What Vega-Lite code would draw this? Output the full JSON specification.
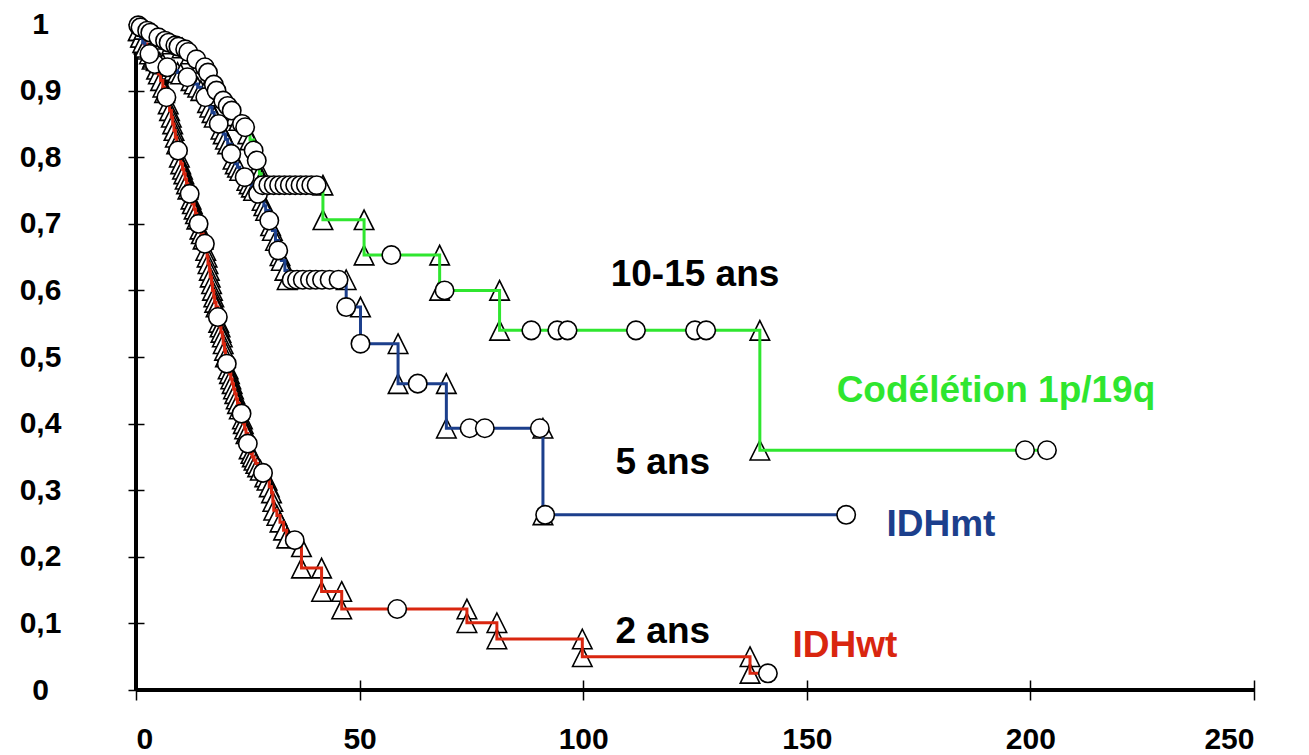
{
  "$schema": "https://vega.github.io/schema/vega-lite/v6.json",
  "width": 1118,
  "height": 666,
  "autosize": {"type": "none"},
  "padding": {"left": 136, "top": 24, "right": 55, "bottom": 65},
  "background": "white",
  "config": {
    "view": {"stroke": null},
    "font": "Liberation Sans",
    "axis": {"grid": false, "domain": false, "tickColor": "black", "tickWidth": 1.5, "labelColor": "black", "labelFont": "Liberation Sans", "labelFontWeight": "bold", "labelFontSize": 30, "title": null}
  },
  "datasets": {
    "km": [
      {"g":"wt","t":0,"s":1,"m":"s"},
      {"g":"wt","t":0.6,"s":0.99,"m":"e"},
      {"g":"wt","t":1.2,"s":0.98,"m":"e"},
      {"g":"wt","t":1.8,"s":0.97,"m":"e"},
      {"g":"wt","t":2.4,"s":0.962,"m":"e"},
      {"g":"wt","t":3.0,"s":0.955,"m":"e"},
      {"g":"wt","t":3.6,"s":0.947,"m":"e"},
      {"g":"wt","t":4.2,"s":0.94,"m":"c"},
      {"g":"wt","t":4.6,"s":0.932,"m":"e"},
      {"g":"wt","t":5.0,"s":0.925,"m":"e"},
      {"g":"wt","t":5.5,"s":0.915,"m":"e"},
      {"g":"wt","t":6.0,"s":0.905,"m":"e"},
      {"g":"wt","t":6.4,"s":0.897,"m":"e"},
      {"g":"wt","t":6.8,"s":0.89,"m":"c"},
      {"g":"wt","t":7.2,"s":0.88,"m":"e"},
      {"g":"wt","t":7.5,"s":0.87,"m":"e"},
      {"g":"wt","t":7.9,"s":0.86,"m":"e"},
      {"g":"wt","t":8.2,"s":0.85,"m":"e"},
      {"g":"wt","t":8.5,"s":0.84,"m":"e"},
      {"g":"wt","t":8.8,"s":0.83,"m":"e"},
      {"g":"wt","t":9.1,"s":0.82,"m":"e"},
      {"g":"wt","t":9.4,"s":0.81,"m":"c"},
      {"g":"wt","t":9.7,"s":0.80,"m":"e"},
      {"g":"wt","t":10.0,"s":0.79,"m":"e"},
      {"g":"wt","t":10.4,"s":0.782,"m":"e"},
      {"g":"wt","t":10.7,"s":0.775,"m":"e"},
      {"g":"wt","t":11.0,"s":0.767,"m":"e"},
      {"g":"wt","t":11.3,"s":0.76,"m":"e"},
      {"g":"wt","t":11.6,"s":0.752,"m":"e"},
      {"g":"wt","t":12.0,"s":0.745,"m":"c"},
      {"g":"wt","t":12.3,"s":0.737,"m":"e"},
      {"g":"wt","t":12.6,"s":0.73,"m":"e"},
      {"g":"wt","t":13.0,"s":0.722,"m":"e"},
      {"g":"wt","t":13.3,"s":0.715,"m":"e"},
      {"g":"wt","t":13.6,"s":0.707,"m":"e"},
      {"g":"wt","t":14.0,"s":0.70,"m":"c"},
      {"g":"wt","t":14.3,"s":0.692,"m":"e"},
      {"g":"wt","t":14.6,"s":0.685,"m":"e"},
      {"g":"wt","t":15.0,"s":0.677,"m":"e"},
      {"g":"wt","t":15.4,"s":0.67,"m":"c"},
      {"g":"wt","t":15.6,"s":0.66,"m":"e"},
      {"g":"wt","t":15.9,"s":0.65,"m":"e"},
      {"g":"wt","t":16.1,"s":0.64,"m":"e"},
      {"g":"wt","t":16.4,"s":0.63,"m":"e"},
      {"g":"wt","t":16.6,"s":0.62,"m":"e"},
      {"g":"wt","t":16.9,"s":0.61,"m":"e"},
      {"g":"wt","t":17.1,"s":0.60,"m":"e"},
      {"g":"wt","t":17.4,"s":0.59,"m":"e"},
      {"g":"wt","t":17.6,"s":0.582,"m":"e"},
      {"g":"wt","t":17.9,"s":0.575,"m":"e"},
      {"g":"wt","t":18.3,"s":0.56,"m":"c"},
      {"g":"wt","t":18.5,"s":0.552,"m":"e"},
      {"g":"wt","t":18.8,"s":0.545,"m":"e"},
      {"g":"wt","t":19.0,"s":0.537,"m":"e"},
      {"g":"wt","t":19.3,"s":0.53,"m":"e"},
      {"g":"wt","t":19.5,"s":0.52,"m":"e"},
      {"g":"wt","t":19.8,"s":0.51,"m":"e"},
      {"g":"wt","t":20.0,"s":0.50,"m":"e"},
      {"g":"wt","t":20.3,"s":0.49,"m":"c"},
      {"g":"wt","t":20.6,"s":0.482,"m":"e"},
      {"g":"wt","t":20.9,"s":0.475,"m":"e"},
      {"g":"wt","t":21.2,"s":0.467,"m":"e"},
      {"g":"wt","t":21.5,"s":0.46,"m":"e"},
      {"g":"wt","t":21.8,"s":0.452,"m":"e"},
      {"g":"wt","t":22.1,"s":0.445,"m":"e"},
      {"g":"wt","t":22.4,"s":0.437,"m":"e"},
      {"g":"wt","t":22.7,"s":0.43,"m":"e"},
      {"g":"wt","t":23.1,"s":0.422,"m":"e"},
      {"g":"wt","t":23.6,"s":0.415,"m":"c"},
      {"g":"wt","t":23.8,"s":0.407,"m":"e"},
      {"g":"wt","t":24.0,"s":0.40,"m":"e"},
      {"g":"wt","t":24.3,"s":0.392,"m":"e"},
      {"g":"wt","t":24.6,"s":0.385,"m":"e"},
      {"g":"wt","t":25.0,"s":0.37,"m":"c"},
      {"g":"wt","t":25.3,"s":0.362,"m":"e"},
      {"g":"wt","t":25.7,"s":0.355,"m":"e"},
      {"g":"wt","t":26.0,"s":0.35,"m":"e"},
      {"g":"wt","t":26.4,"s":0.345,"m":"e"},
      {"g":"wt","t":26.8,"s":0.34,"m":"e"},
      {"g":"wt","t":27.2,"s":0.335,"m":"e"},
      {"g":"wt","t":27.8,"s":0.33,"m":"e"},
      {"g":"wt","t":28.4,"s":0.326,"m":"c"},
      {"g":"wt","t":28.8,"s":0.32,"m":"e"},
      {"g":"wt","t":29.3,"s":0.315,"m":"e"},
      {"g":"wt","t":29.8,"s":0.305,"m":"e"},
      {"g":"wt","t":30.3,"s":0.296,"m":"e"},
      {"g":"wt","t":30.6,"s":0.283,"m":"e"},
      {"g":"wt","t":30.8,"s":0.27,"m":"e"},
      {"g":"wt","t":31.5,"s":0.262,"m":"e"},
      {"g":"wt","t":32.2,"s":0.252,"m":"e"},
      {"g":"wt","t":33.0,"s":0.24,"m":"e"},
      {"g":"wt","t":33.7,"s":0.228,"m":"e"},
      {"g":"wt","t":35.5,"s":0.225,"m":"c"},
      {"g":"wt","t":37.0,"s":0.215,"m":"e"},
      {"g":"wt","t":37.0,"s":0.183,"m":"e"},
      {"g":"wt","t":41.5,"s":0.183,"m":"e"},
      {"g":"wt","t":41.5,"s":0.148,"m":"e"},
      {"g":"wt","t":46.0,"s":0.148,"m":"e"},
      {"g":"wt","t":46.0,"s":0.1216,"m":"e"},
      {"g":"wt","t":58.4,"s":0.1216,"m":"c"},
      {"g":"wt","t":74.0,"s":0.1216,"m":"e"},
      {"g":"wt","t":74.0,"s":0.101,"m":"e"},
      {"g":"wt","t":80.7,"s":0.101,"m":"e"},
      {"g":"wt","t":80.7,"s":0.0766,"m":"e"},
      {"g":"wt","t":99.8,"s":0.0766,"m":"e"},
      {"g":"wt","t":99.8,"s":0.05,"m":"e"},
      {"g":"wt","t":137.3,"s":0.05,"m":"e"},
      {"g":"wt","t":137.3,"s":0.025,"m":"e"},
      {"g":"wt","t":141.3,"s":0.025,"m":"c"},

      {"g":"mt","t":0,"s":1,"m":"s"},
      {"g":"mt","t":0.5,"s":0.99,"m":"e"},
      {"g":"mt","t":1.0,"s":0.98,"m":"e"},
      {"g":"mt","t":1.5,"s":0.972,"m":"e"},
      {"g":"mt","t":2.0,"s":0.965,"m":"e"},
      {"g":"mt","t":3.0,"s":0.955,"m":"c"},
      {"g":"mt","t":3.8,"s":0.95,"m":"e"},
      {"g":"mt","t":4.5,"s":0.945,"m":"e"},
      {"g":"mt","t":5.3,"s":0.942,"m":"e"},
      {"g":"mt","t":6.0,"s":0.94,"m":"e"},
      {"g":"mt","t":7.0,"s":0.935,"m":"c"},
      {"g":"mt","t":7.8,"s":0.932,"m":"e"},
      {"g":"mt","t":8.5,"s":0.93,"m":"e"},
      {"g":"mt","t":9.3,"s":0.927,"m":"e"},
      {"g":"mt","t":10.0,"s":0.925,"m":"e"},
      {"g":"mt","t":11.5,"s":0.92,"m":"c"},
      {"g":"mt","t":12.3,"s":0.915,"m":"e"},
      {"g":"mt","t":13.0,"s":0.91,"m":"e"},
      {"g":"mt","t":13.8,"s":0.905,"m":"e"},
      {"g":"mt","t":14.5,"s":0.90,"m":"e"},
      {"g":"mt","t":15.5,"s":0.89,"m":"c"},
      {"g":"mt","t":16.0,"s":0.882,"m":"e"},
      {"g":"mt","t":16.5,"s":0.875,"m":"e"},
      {"g":"mt","t":17.0,"s":0.867,"m":"e"},
      {"g":"mt","t":17.5,"s":0.86,"m":"e"},
      {"g":"mt","t":18.5,"s":0.85,"m":"c"},
      {"g":"mt","t":19.0,"s":0.842,"m":"e"},
      {"g":"mt","t":19.5,"s":0.835,"m":"e"},
      {"g":"mt","t":20.0,"s":0.827,"m":"e"},
      {"g":"mt","t":20.5,"s":0.82,"m":"e"},
      {"g":"mt","t":21.3,"s":0.805,"m":"c"},
      {"g":"mt","t":21.7,"s":0.797,"m":"e"},
      {"g":"mt","t":22.2,"s":0.79,"m":"e"},
      {"g":"mt","t":22.7,"s":0.785,"m":"e"},
      {"g":"mt","t":23.2,"s":0.78,"m":"e"},
      {"g":"mt","t":24.3,"s":0.77,"m":"c"},
      {"g":"mt","t":24.8,"s":0.765,"m":"e"},
      {"g":"mt","t":25.3,"s":0.76,"m":"e"},
      {"g":"mt","t":25.8,"s":0.755,"m":"e"},
      {"g":"mt","t":26.3,"s":0.75,"m":"e"},
      {"g":"mt","t":27.3,"s":0.745,"m":"c"},
      {"g":"mt","t":28.2,"s":0.735,"m":"e"},
      {"g":"mt","t":28.6,"s":0.727,"m":"e"},
      {"g":"mt","t":29.0,"s":0.72,"m":"e"},
      {"g":"mt","t":29.8,"s":0.705,"m":"c"},
      {"g":"mt","t":30.1,"s":0.697,"m":"e"},
      {"g":"mt","t":30.5,"s":0.69,"m":"e"},
      {"g":"mt","t":31.2,"s":0.675,"m":"e"},
      {"g":"mt","t":31.8,"s":0.66,"m":"c"},
      {"g":"mt","t":32.2,"s":0.652,"m":"e"},
      {"g":"mt","t":32.5,"s":0.645,"m":"e"},
      {"g":"mt","t":33.3,"s":0.63,"m":"e"},
      {"g":"mt","t":33.8,"s":0.616,"m":"e"},
      {"g":"mt","t":34.8,"s":0.616,"m":"c"},
      {"g":"mt","t":36.0,"s":0.616,"m":"c"},
      {"g":"mt","t":37.3,"s":0.616,"m":"c"},
      {"g":"mt","t":38.9,"s":0.616,"m":"c"},
      {"g":"mt","t":40.2,"s":0.616,"m":"c"},
      {"g":"mt","t":41.6,"s":0.616,"m":"c"},
      {"g":"mt","t":43.3,"s":0.616,"m":"c"},
      {"g":"mt","t":45.3,"s":0.616,"m":"c"},
      {"g":"mt","t":47.0,"s":0.616,"m":"e"},
      {"g":"mt","t":47.0,"s":0.575,"m":"c"},
      {"g":"mt","t":50.2,"s":0.575,"m":"e"},
      {"g":"mt","t":50.2,"s":0.52,"m":"c"},
      {"g":"mt","t":58.6,"s":0.52,"m":"e"},
      {"g":"mt","t":58.6,"s":0.46,"m":"e"},
      {"g":"mt","t":63.0,"s":0.46,"m":"c"},
      {"g":"mt","t":69.4,"s":0.46,"m":"e"},
      {"g":"mt","t":69.4,"s":0.393,"m":"e"},
      {"g":"mt","t":74.6,"s":0.393,"m":"c"},
      {"g":"mt","t":78.0,"s":0.393,"m":"c"},
      {"g":"mt","t":90.3,"s":0.393,"m":"c"},
      {"g":"mt","t":91.0,"s":0.393,"m":"e"},
      {"g":"mt","t":91.0,"s":0.263,"m":"e"},
      {"g":"mt","t":91.5,"s":0.263,"m":"c"},
      {"g":"mt","t":158.8,"s":0.263,"m":"c"},

      {"g":"co","t":0,"s":1,"m":"s"},
      {"g":"co","t":0.5,"s":0.998,"m":"c"},
      {"g":"co","t":1.0,"s":0.995,"m":"c"},
      {"g":"co","t":1.8,"s":0.992,"m":"e"},
      {"g":"co","t":2.5,"s":0.99,"m":"c"},
      {"g":"co","t":3.2,"s":0.987,"m":"c"},
      {"g":"co","t":4.0,"s":0.985,"m":"e"},
      {"g":"co","t":5.0,"s":0.98,"m":"c"},
      {"g":"co","t":5.8,"s":0.977,"m":"e"},
      {"g":"co","t":6.5,"s":0.975,"m":"c"},
      {"g":"co","t":7.3,"s":0.972,"m":"c"},
      {"g":"co","t":8.0,"s":0.97,"m":"e"},
      {"g":"co","t":8.8,"s":0.968,"m":"c"},
      {"g":"co","t":9.5,"s":0.966,"m":"c"},
      {"g":"co","t":10.3,"s":0.964,"m":"e"},
      {"g":"co","t":11.0,"s":0.962,"m":"c"},
      {"g":"co","t":11.7,"s":0.958,"m":"c"},
      {"g":"co","t":12.3,"s":0.955,"m":"e"},
      {"g":"co","t":13.5,"s":0.947,"m":"c"},
      {"g":"co","t":14.5,"s":0.941,"m":"e"},
      {"g":"co","t":15.4,"s":0.935,"m":"c"},
      {"g":"co","t":16.1,"s":0.927,"m":"c"},
      {"g":"co","t":16.8,"s":0.918,"m":"e"},
      {"g":"co","t":17.4,"s":0.909,"m":"c"},
      {"g":"co","t":18.0,"s":0.90,"m":"c"},
      {"g":"co","t":18.8,"s":0.892,"m":"e"},
      {"g":"co","t":19.5,"s":0.885,"m":"c"},
      {"g":"co","t":20.5,"s":0.877,"m":"c"},
      {"g":"co","t":21.4,"s":0.87,"m":"c"},
      {"g":"co","t":22.2,"s":0.862,"m":"e"},
      {"g":"co","t":23.0,"s":0.855,"m":"e"},
      {"g":"co","t":23.7,"s":0.85,"m":"c"},
      {"g":"co","t":24.4,"s":0.845,"m":"c"},
      {"g":"co","t":25.0,"s":0.835,"m":"e"},
      {"g":"co","t":25.5,"s":0.826,"m":"e"},
      {"g":"co","t":26.3,"s":0.81,"m":"c"},
      {"g":"co","t":27.0,"s":0.795,"m":"c"},
      {"g":"co","t":27.3,"s":0.785,"m":"e"},
      {"g":"co","t":27.6,"s":0.775,"m":"e"},
      {"g":"co","t":28.0,"s":0.766,"m":"e"},
      {"g":"co","t":28.3,"s":0.758,"m":"c"},
      {"g":"co","t":29.6,"s":0.758,"m":"c"},
      {"g":"co","t":30.8,"s":0.758,"m":"c"},
      {"g":"co","t":32.0,"s":0.758,"m":"c"},
      {"g":"co","t":33.2,"s":0.758,"m":"c"},
      {"g":"co","t":34.4,"s":0.758,"m":"c"},
      {"g":"co","t":35.6,"s":0.758,"m":"c"},
      {"g":"co","t":36.8,"s":0.758,"m":"c"},
      {"g":"co","t":38.0,"s":0.758,"m":"c"},
      {"g":"co","t":39.2,"s":0.758,"m":"c"},
      {"g":"co","t":40.4,"s":0.758,"m":"c"},
      {"g":"co","t":41.8,"s":0.758,"m":"e"},
      {"g":"co","t":41.8,"s":0.706,"m":"e"},
      {"g":"co","t":51.0,"s":0.706,"m":"e"},
      {"g":"co","t":51.0,"s":0.653,"m":"e"},
      {"g":"co","t":57.1,"s":0.653,"m":"c"},
      {"g":"co","t":67.9,"s":0.653,"m":"e"},
      {"g":"co","t":67.9,"s":0.60,"m":"e"},
      {"g":"co","t":69.0,"s":0.60,"m":"c"},
      {"g":"co","t":81.3,"s":0.60,"m":"e"},
      {"g":"co","t":81.3,"s":0.54,"m":"e"},
      {"g":"co","t":88.4,"s":0.54,"m":"c"},
      {"g":"co","t":94.2,"s":0.54,"m":"c"},
      {"g":"co","t":96.5,"s":0.54,"m":"c"},
      {"g":"co","t":111.8,"s":0.54,"m":"c"},
      {"g":"co","t":125.0,"s":0.54,"m":"c"},
      {"g":"co","t":127.5,"s":0.54,"m":"c"},
      {"g":"co","t":139.5,"s":0.54,"m":"e"},
      {"g":"co","t":139.5,"s":0.36,"m":"e"},
      {"g":"co","t":198.8,"s":0.36,"m":"c"},
      {"g":"co","t":203.7,"s":0.36,"m":"c"}
    ],
    "notes": [
      {"label":"10-15 ans","t":125.0,"s":0.623,"k":"note"},
      {"label":"Codélétion 1p/19q","t":192.3,"s":0.449,"k":"co"},
      {"label":"5 ans","t":117.8,"s":0.341,"k":"note"},
      {"label":"IDHmt","t":180.0,"s":0.248,"k":"mt"},
      {"label":"2 ans","t":117.8,"s":0.087,"k":"note"},
      {"label":"IDHwt","t":158.5,"s":0.066,"k":"wt"}
    ]
  },
  "data": {"name": "km"},
  "encoding": {
    "x": {"field": "t", "type": "quantitative", "scale": {"domain": [0, 250], "nice": false, "zero": false},
      "axis": {"values": [0, 50, 100, 150, 200, 250], "tickSize": 20, "offset": -10, "labelPadding": 24}},
    "y": {"field": "s", "type": "quantitative", "scale": {"domain": [0, 1], "nice": false},
      "axis": {"values": [0, 0.1, 0.2, 0.3, 0.4, 0.5, 0.6, 0.7, 0.8, 0.9, 1], "tickSize": 16, "offset": -8, "labelPadding": 88, "labelAlign": "center", "labelBaseline": "middle", "format": ".1~f", "labelExpr": "replace(datum.label, '.', ',')"}}
  },
  "layer": [
    {
      "mark": {"type": "rule", "color": "black", "strokeWidth": 2.5},
      "encoding": {"x": {"datum": 0}, "y": null}
    },
    {
      "mark": {"type": "rule", "color": "black", "strokeWidth": 2.5},
      "encoding": {"y": {"datum": 0}, "x": null}
    },
    {
      "transform": [{"filter": "datum.m === 'e'"}],
      "mark": {"type": "point", "shape": "M0,-1L1,1L-1,1Z", "filled": false, "fill": "white", "fillOpacity": 1, "stroke": "black", "strokeWidth": 1.6, "size": 380, "opacity": 1}
    },
    {
      "mark": {"type": "line", "interpolate": "step-after", "strokeWidth": 3},
      "encoding": {
        "color": {"field": "g", "type": "nominal", "scale": {"domain": ["co", "mt", "wt", "note"], "range": ["#2fe62f", "#1c3f8c", "#d9260f", "#000000"]}, "legend": null},
        "order": [{"field": "t", "type": "quantitative"}, {"field": "s", "type": "quantitative", "sort": "descending"}]
      }
    },
    {
      "transform": [{"filter": "datum.m === 'c'"}],
      "mark": {"type": "point", "shape": "circle", "filled": false, "fill": "white", "fillOpacity": 1, "stroke": "black", "strokeWidth": 1.6, "size": 340, "opacity": 1}
    },
    {
      "data": {"name": "notes"},
      "mark": {"type": "text", "font": "Liberation Sans", "fontWeight": "bold", "fontSize": 37, "align": "center", "baseline": "middle"},
      "encoding": {
        "text": {"field": "label"},
        "color": {"field": "k", "type": "nominal", "scale": {"domain": ["co", "mt", "wt", "note"], "range": ["#2fe62f", "#1c3f8c", "#d9260f", "#000000"]}, "legend": null}
      }
    }
  ]
}
